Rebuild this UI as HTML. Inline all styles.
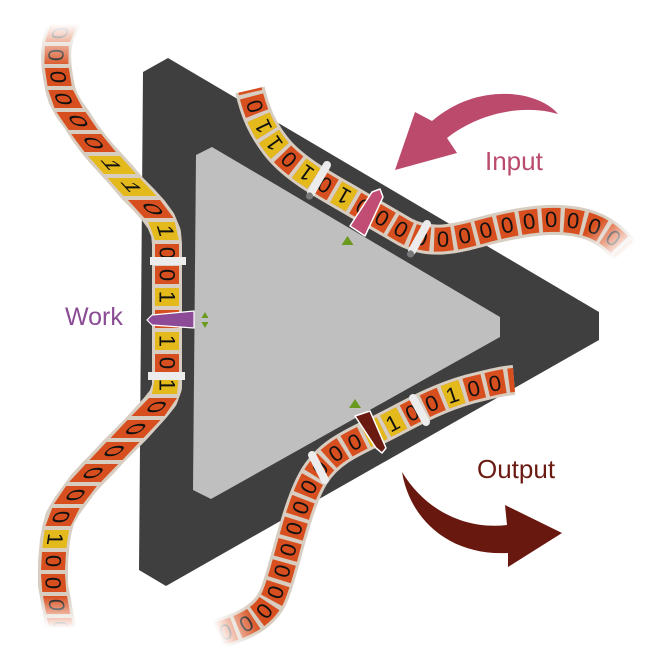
<!DOCTYPE html>
<html><head><meta charset="utf-8">
<style>
html,body{margin:0;padding:0;background:#fff}
svg{display:block}
.d{font-family:"Liberation Sans",sans-serif;font-size:22px;text-anchor:middle;dominant-baseline:central;fill:#111}
.t{font-family:"Liberation Sans",sans-serif;font-size:22px;letter-spacing:9.77px;dominant-baseline:central;fill:#111}
.lbl{font-family:"Liberation Sans",sans-serif}
</style></head>
<body>
<svg width="655" height="665" viewBox="0 0 655 665" xmlns="http://www.w3.org/2000/svg">
<defs>
  <path id="tin" d="M 648 288 C 632 258, 618 236, 592 226 C 560 214, 520 222, 488 230 C 458 238, 432 246, 405 232 L 345 197 C 315 180, 290 165, 275 145 C 262 128, 255 112, 250 90"/>
  <path id="tout" d="M 188 642 C 225 632, 262 625, 274 595 C 286 565, 296 505, 315 475 C 328 455, 345 446, 372 433 C 400 420, 430 400, 470 389 C 490 384, 502 381, 514 380"/>
  <linearGradient id="fTop" gradientUnits="userSpaceOnUse" x1="0" y1="24" x2="0" y2="68">
    <stop offset="0" stop-color="#fff" stop-opacity="1"/><stop offset="1" stop-color="#fff" stop-opacity="0"/>
  </linearGradient>
  <linearGradient id="fBot" gradientUnits="userSpaceOnUse" x1="0" y1="596" x2="0" y2="628">
    <stop offset="0" stop-color="#fff" stop-opacity="0"/><stop offset="1" stop-color="#fff" stop-opacity="1"/>
  </linearGradient>
  <linearGradient id="fIn" gradientUnits="userSpaceOnUse" x1="590" y1="229" x2="616" y2="259">
    <stop offset="0" stop-color="#fff" stop-opacity="0"/><stop offset="1" stop-color="#fff" stop-opacity="1"/>
  </linearGradient>
  <linearGradient id="fOut" gradientUnits="userSpaceOnUse" x1="253" y1="613" x2="216" y2="630">
    <stop offset="0" stop-color="#fff" stop-opacity="0"/><stop offset="1" stop-color="#fff" stop-opacity="1"/>
  </linearGradient>
</defs>

<rect width="655" height="665" fill="#fff"/>

<!-- machine -->
<polygon points="143,72 168,58 599,312 599,340 166,586 139,570" fill="#3f3f3f"/>
<polygon points="196,155 212,147 500,317 500,337 211,499 193,490" fill="#bfbfbf"/>

<!-- arrows -->
<path d="M 558 114 C 540 92, 480 80, 432 121 L 415 112 L 395 170 L 457 153 L 447 138 C 480 112, 525 104, 558 114 Z" fill="#bb4a6d"/>
<path d="M 402 472 C 410 520, 450 556, 508 553 L 508 567 L 562 533 L 505 505 L 507 525 C 465 530, 425 510, 402 472 Z" fill="#69180f"/>

<!-- labels -->
<text class="lbl" x="485" y="170" font-size="26" fill="#b94b6d">Input</text>
<text class="lbl" x="477" y="478" font-size="26" fill="#6b1a11">Output</text>
<text class="lbl" x="65" y="325" font-size="25" fill="#8b4b95">Work</text>

<!-- INPUT TAPE -->
<use href="#tin" fill="none" stroke="#d8cdc1" stroke-width="30"/>
<use href="#tin" fill="none" stroke="#d84f1f" stroke-width="24" stroke-dasharray="18 4" stroke-dashoffset="-8"/>
<use href="#tin" fill="none" stroke="#e4b91b" stroke-width="24" stroke-dasharray="0 330 18 4 0 22 18 4 0 22 18 4 18 4 0 22" stroke-dashoffset="-8"/>
<text class="t"><textPath href="#tin" startOffset="10.88">0000000000000001010110</textPath></text>

<!-- OUTPUT TAPE -->
<use href="#tout" fill="none" stroke="#d8cdc1" stroke-width="30"/>
<use href="#tout" fill="none" stroke="#d84f1f" stroke-width="24" stroke-dasharray="18 4" stroke-dashoffset="-8"/>
<use href="#tout" fill="none" stroke="#e4b91b" stroke-width="24" stroke-dasharray="0 286 18 4 18 4 0 22 0 22 18 4 0 22 0 22" stroke-dashoffset="-8"/>
<text class="t"><textPath href="#tout" startOffset="10.88">00000000000001100100</textPath></text>

<!-- WORK TAPE -->
<polyline fill="none" stroke="#d8cdc1" stroke-width="30" stroke-linejoin="round" points="72,8 66,22 60,33 57,44 56,55 56.5,66 58,77 60,88 63,98 69,109 77,120 84,131 92,142 101,153 112,165 122,176 132,188 143,199 153,210 161,221 166,233 167,244 167,387 163,398 155,408 145,419 135,430 124,441 113,452 103,463 93,473 83,484 75,495 67,506 60,518 57,529 55,540 54,551 53,563 53,574 53,585 55,596 57,607 59,618 62,630 66,645 70,665"/>
<g fill="#d84f1f">
  <polygon points="50.3,24 77.7,24 70.1,42 45.1,42"/>
  <polygon points="44.8,46 68.8,46 68.4,64 44.4,64"/>
  <polygon points="44.8,68 68.8,68 71.7,86 47.5,86"/>
  <polygon points="48.2,90 73,90 82.5,108 54.5,108"/>
  <polygon points="56.4,112 85.6,112 98,130 68.8,130"/>
  <polygon points="71.2,134 101.2,134 115.9,152 84.5,152"/>
  <polygon points="127.9,200 160.1,200 173.6,218 144.4,218"/>
  <rect x="155" y="244" width="24" height="18"/>
  <rect x="155" y="266" width="24" height="18"/>
  <rect x="155" y="310" width="24" height="18"/>
  <rect x="155" y="354" width="24" height="18"/>
  <polygon points="149,398 177,398 164.5,416 131.5,416"/>
  <polygon points="127.5,420 160.5,420 143.5,438 110.5,438"/>
  <polygon points="106.5,442 139.5,442 122.5,460 89.5,460"/>
  <polygon points="85.7,464 118.3,464 100.9,482 69.1,482"/>
  <polygon points="66.1,486 96.9,486 83.1,504 53.9,504"/>
  <polygon points="52.2,508 79.8,508 70.6,526 45.4,526"/>
  <polygon points="42,552 66,552 65,570 41,570"/>
  <polygon points="41,574 65,574 66.3,592 42.3,592"/>
  <polygon points="43,596 67,596 70.3,614 46.3,614"/>
  <polygon points="46.8,618 71.2,618 76,636 51.6,636"/>
</g>
<g fill="#e4b91b">
  <polygon points="87.9,156 120.1,156 136.1,174 103.9,174"/>
  <polygon points="107.6,178 139.8,178 156.5,196 123.5,196"/>
  <polygon points="148.3,222 174.7,222 178.8,240 154.8,240"/>
  <rect x="155" y="288" width="24" height="18"/>
  <rect x="155" y="332" width="24" height="18"/>
  <polygon points="155,376 179,376 177,394 152,394"/>
  <polygon points="44.6,530 69,530 66.3,548 42.3,548"/>
</g>
<g>
  <text class="d" transform="matrix(-0.45,1,-1,0,60,33)">0</text>
  <text class="d" transform="matrix(-0.05,1,-1,0,56,55)">0</text>
  <text class="d" transform="matrix(0.18,1,-1,0,58,77)">0</text>
  <text class="d" transform="matrix(0.45,1,-1,0,63.5,99)">0</text>
  <text class="d" transform="matrix(0.7,1,-1,0,77.5,121)">0</text>
  <text class="d" transform="matrix(0.8,1,-1,0,93,143)">0</text>
  <text class="d" transform="matrix(0.9,1,-1,0,112,165)">1</text>
  <text class="d" transform="matrix(0.92,1,-1,0,132,187)">1</text>
  <text class="d" transform="matrix(0.85,1,-1,0,152,209)">0</text>
  <text class="d" transform="matrix(0.3,1,-1,0,165.5,231)">1</text>
  <text class="d" transform="matrix(0,1,-1,0,167,253)">0</text>
  <text class="d" transform="matrix(0,1,-1,0,167,275)">0</text>
  <text class="d" transform="matrix(0,1,-1,0,167,297)">1</text>
  <text class="d" transform="matrix(0,1,-1,0,167,319)">0</text>
  <text class="d" transform="matrix(0,1,-1,0,167,341)">1</text>
  <text class="d" transform="matrix(0,1,-1,0,167,363)">0</text>
  <text class="d" transform="matrix(0,1,-1,0,167,385)">1</text>
  <text class="d" transform="matrix(-0.8,1,-1,0,156,407)">0</text>
  <text class="d" transform="matrix(-0.95,1,-1,0,135.5,429)">0</text>
  <text class="d" transform="matrix(-0.95,1,-1,0,114,451)">0</text>
  <text class="d" transform="matrix(-0.92,1,-1,0,93,473)">0</text>
  <text class="d" transform="matrix(-0.75,1,-1,0,75,495)">0</text>
  <text class="d" transform="matrix(-0.5,1,-1,0,61,517)">0</text>
  <text class="d" transform="matrix(-0.15,1,-1,0,55,539)">1</text>
  <text class="d" transform="matrix(-0.05,1,-1,0,53.3,561)">0</text>
  <text class="d" transform="matrix(0.05,1,-1,0,53,583)">0</text>
  <text class="d" transform="matrix(0.18,1,-1,0,56.5,605)">0</text>
  <text class="d" transform="matrix(0.25,1,-1,0,61,627)">0</text>
</g>

<!-- clamps -->
<g fill="#ececec">
  <rect x="150" y="257" width="36" height="8"/>
  <rect x="148" y="372" width="37" height="8"/>
</g>
<g stroke="#ececec" stroke-width="8" stroke-linecap="round">
  <line x1="311" y1="193" x2="327" y2="165"/>
  <line x1="412" y1="251" x2="427" y2="224"/>
  <line x1="312" y1="455" x2="325" y2="480"/>
  <line x1="413" y1="398" x2="426" y2="422"/>
</g>
<g fill="#7a7a7a">
  <circle cx="309.5" cy="196" r="3.6"/>
  <circle cx="410.5" cy="254" r="3.6"/>
</g>

<!-- heads -->
<polygon points="350,226 365,236 383,197 380,189 372,192" fill="#c24d74" stroke="#fff" stroke-width="1.5" stroke-linejoin="round"/>
<polygon points="355,416 370,411 386,448 382,453 376,448" fill="#6a1a10" stroke="#fff" stroke-width="1.5" stroke-linejoin="round"/>
<polygon points="147,320 152,315 194,311 194,328 152,325" fill="#8d4b97" stroke="#fff" stroke-width="1.2" stroke-linejoin="round"/>

<!-- green markers -->
<g fill="#6a9a20">
  <polygon points="341.5,245 353.5,245 347.5,236"/>
  <polygon points="349,408 361,408 355,399"/>
  <polygon points="201.5,318 208.5,318 205,312"/>
  <polygon points="201.5,322 208.5,322 205,328"/>
</g>

<!-- fades -->
<rect x="20" y="0" width="110" height="72" fill="url(#fTop)"/>
<rect x="20" y="592" width="100" height="73" fill="url(#fBot)"/>
<polygon points="578,195 655,195 655,300 578,300" fill="url(#fIn)"/>
<polygon points="170,590 262,590 262,665 140,665 140,600" fill="url(#fOut)"/>
</svg>
</body></html>
